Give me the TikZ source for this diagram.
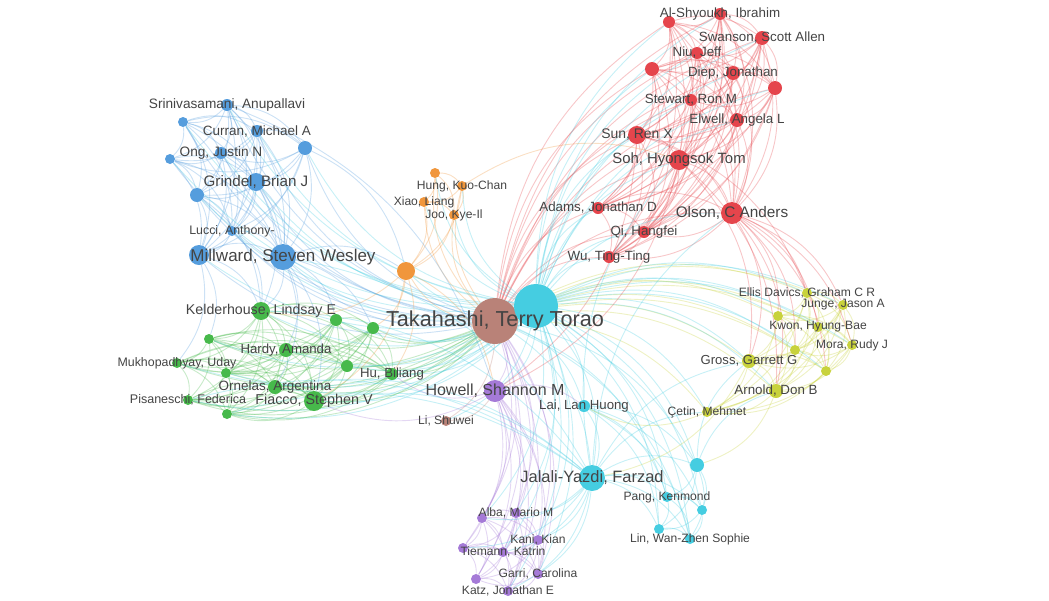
\documentclass[tikz,border=0pt]{standalone}
\usepackage{fontspec}
\setmainfont{Liberation Sans}
\usepackage{tikz}
\definecolor{palette_bleu}{HTML}{559DDD}
\definecolor{palette_vert}{HTML}{47B94B}
\definecolor{palette_rouge}{HTML}{E5454C}
\definecolor{palette_jaune}{HTML}{C8D23C}
\definecolor{palette_violet}{HTML}{A57AD7}
\definecolor{palette_cyan}{HTML}{45CDE1}
\definecolor{palette_orange}{HTML}{F0963C}
\definecolor{palette_brun}{HTML}{B98278}
\definecolor{palette_texte}{HTML}{444444}
\pgfdeclarelayer{edges}
\pgfsetlayers{edges,main}
% every pair of a cluster
\newcommand\authclique[2]{%
  \foreach \p [count=\i] in {#2} {
    \foreach \q [count=\j] in {#2} {
      \ifnum\j>\i\relax \draw[ed=#1] (\p) to (\q); \fi
    }
  }
}
\begin{document}
\begin{tikzpicture}[x=0.025cm, y=-0.025cm,
    au/.style={circle, inner sep=0pt, fill=#1},
    ed/.style={draw=#1, draw opacity=.3, line width=.65pt, bend left=25},
    lab/.style={text=palette_texte, inner sep=0pt, font=\fontsize{#1}{#1}\selectfont}]
    \useasboundingbox (0,0) rectangle (1049,600);

    % authors
    \foreach \n/\x/\y/\r/\c in {
        bsri/227/105/6/palette_bleu, ba/183/122/5/palette_bleu, bcur/257/131/6/palette_bleu,
        bb/305/148/7/palette_bleu, bong/221/153/6/palette_bleu, bc/170/159/5/palette_bleu,
        bgri/256/182/9/palette_bleu, bd/197/195/7/palette_bleu, bluc/232/231/5/palette_bleu,
        be/199/255/10/palette_bleu, bmil/283/257/13/palette_bleu,
        oa/435/173/5/palette_orange, ohun/462/186/5/palette_orange, oxia/424/202/5/palette_orange,
        ojoo/454/215/5/palette_orange, ob/406/271/9/palette_orange,
        tak/495/321/23/palette_brun, bli/446/421/5/palette_brun,
        cy/536/306/22/palette_cyan, clai/584/406/6/palette_cyan, cjal/592/478/13/palette_cyan,
        ca/697/465/7/palette_cyan, cpan/667/497/5/palette_cyan, cb/702/510/5/palette_cyan,
        cc/659/529/5/palette_cyan, clin/690/539/5/palette_cyan,
        phow/495/391/11/palette_violet, pa/482/518/5/palette_violet, palb/516/513/5/palette_violet,
        pkan/538/540/5/palette_violet, pb/463/548/5/palette_violet, ptie/503/552/5/palette_violet,
        pgar/538/574/5/palette_violet, pc/476/579/5/palette_violet, pkat/508/591/5/palette_violet,
        gkel/261/311/9/palette_vert, ga/336/320/6/palette_vert, gb/373/328/6/palette_vert,
        gc/209/339/5/palette_vert, ghar/286/350/7/palette_vert, gmuk/177/363/5/palette_vert,
        gd/226/373/5/palette_vert, ge/347/366/6/palette_vert, ghu/392/374/6/palette_vert,
        gorn/275/387/7/palette_vert, gpis/188/400/5/palette_vert, gfia/314/401/10/palette_vert,
        gf/227/414/5/palette_vert,
        rals/720/14/6/palette_rouge, ra/669/22/6/palette_rouge, rswa/762/38/7/palette_rouge,
        rniu/697/53/6/palette_rouge, rb/652/69/7/palette_rouge, rdie/733/73/7/palette_rouge,
        rc/775/88/7/palette_rouge, rste/691/100/6/palette_rouge, relw/737/120/7/palette_rouge,
        rsun/637/135/9/palette_rouge, rsoh/679/160/10/palette_rouge, rada/598/208/6/palette_rouge,
        rols/732/213/11/palette_rouge, rqi/644/232/6/palette_rouge, rwu/609/257/6/palette_rouge,
        yell/807/293/5/palette_jaune, yjun/843/305/5/palette_jaune, ya/778/316/5/palette_jaune,
        ykwo/818/327/5/palette_jaune, ymor/852/345/5/palette_jaune, yb/795/350/5/palette_jaune,
        ygro/749/361/7/palette_jaune, yc/826/371/5/palette_jaune, yarn/776/391/7/palette_jaune,
        ycet/707/412/5/palette_jaune}
        \node[au=\c, minimum size=\r*0.05cm] (\n) at (\x,\y) {};

    \begin{pgfonlayer}{edges}
    % links inside the clusters
    \authclique{palette_bleu}{bsri,ba,bcur,bb,bong,bc,bgri,bd,bluc,be,bmil}
    \authclique{palette_orange}{oa,ohun,oxia,ojoo,ob}
    \authclique{palette_cyan}{cy,clai,cjal,ca,cpan,cb,cc,clin}
    \authclique{palette_violet}{phow,pa,palb,pkan,pb,ptie,pgar,pc,pkat}
    \authclique{palette_vert}{gkel,ga,gb,gc,ghar,gmuk,gd,ge,ghu,gorn,gpis,gfia,gf}
    \authclique{palette_rouge}{rals,ra,rswa,rniu,rb,rdie,rc,rste,relw,rsun,rsoh,rada,rols,rqi,rwu}
    \authclique{palette_jaune}{yell,yjun,ya,ykwo,ymor,yb,ygro,yc,yarn,ycet}

    % links of the two hubs
    \foreach \p/\c in {bsri/palette_bleu, ba/palette_bleu, bcur/palette_bleu, bb/palette_bleu,
        bong/palette_bleu, bc/palette_bleu, bgri/palette_bleu, bd/palette_bleu, bluc/palette_bleu,
        be/palette_bleu, bmil/palette_bleu, oa/palette_orange, ohun/palette_orange,
        oxia/palette_orange, ojoo/palette_orange, ob/palette_orange, bli/palette_brun,
        clai/palette_cyan, cjal/palette_cyan, ca/palette_cyan, cpan/palette_cyan, clin/palette_cyan,
        phow/palette_violet, pa/palette_violet, palb/palette_violet, pkan/palette_violet,
        pb/palette_violet, ptie/palette_violet, pgar/palette_violet, pc/palette_violet,
        pkat/palette_violet, gkel/palette_vert, ga/palette_vert, gb/palette_vert, gc/palette_vert,
        ghar/palette_vert, gmuk/palette_vert, gd/palette_vert, ge/palette_vert, ghu/palette_vert,
        gorn/palette_vert, gpis/palette_vert, gfia/palette_vert, gf/palette_vert,
        rals/palette_rouge, ra/palette_rouge, rswa/palette_rouge, rniu/palette_rouge,
        rb/palette_rouge, rdie/palette_rouge, rc/palette_rouge, rste/palette_rouge,
        relw/palette_rouge, rsun/palette_rouge, rsoh/palette_rouge, rada/palette_rouge,
        rols/palette_rouge, rqi/palette_rouge, rwu/palette_rouge, yell/palette_jaune,
        yjun/palette_jaune, ya/palette_jaune, ykwo/palette_jaune, ymor/palette_jaune,
        yb/palette_jaune, ygro/palette_jaune, yc/palette_jaune, yarn/palette_jaune,
        ycet/palette_jaune}
        \draw[ed=\c] (tak) to (\p);
    \foreach \p in {bsri,ba,bcur,bb,bong,bc,bgri,bd,bluc,be,bmil,oa,ohun,oxia,ojoo,ob,bli,
        phow,pa,palb,pkan,ptie,pgar,pkat,gkel,ga,gb,gc,ghar,gmuk,gd,ge,ghu,gorn,gpis,gfia,gf,
        rals,ra,rswa,rniu,rb,rdie,rc,rste,relw,rsun,rsoh,rada,rols,rqi,rwu,
        yell,yjun,ya,ykwo,ymor,yb,ygro,yc,yarn,ycet}
        \draw[ed=palette_cyan] (cy) to (\p);
    \draw[ed=palette_brun, line width=1.5pt] (tak) to (cy);

    % links between the clusters
    \foreach \a/\b/\c in {bmil/gkel/palette_bleu, bmil/ghar/palette_bleu, bmil/gfia/palette_bleu,
        bmil/gorn/palette_bleu, be/gkel/palette_bleu, be/gc/palette_bleu, be/gmuk/palette_bleu,
        bgri/gkel/palette_bleu, bd/gkel/palette_bleu, bluc/gkel/palette_bleu, bmil/ga/palette_bleu,
        bmil/gb/palette_bleu, bb/ob/palette_bleu, bmil/ob/palette_bleu, bsri/phow/palette_bleu,
        ob/gkel/palette_orange, ob/gb/palette_orange, ob/ghu/palette_orange, ob/gfia/palette_orange,
        ob/phow/palette_orange, ohun/rsoh/palette_orange,
        rols/yell/palette_rouge, rols/yjun/palette_rouge, rols/ya/palette_rouge,
        rols/ykwo/palette_rouge, rols/ymor/palette_rouge, rols/yb/palette_rouge,
        rols/ygro/palette_rouge, rols/yc/palette_rouge, rols/yarn/palette_rouge,
        rsoh/ygro/palette_rouge, rsoh/yarn/palette_rouge, rsun/yell/palette_rouge,
        rsoh/phow/palette_rouge, rsun/phow/palette_rouge,
        cjal/rols/palette_cyan, cjal/rsoh/palette_cyan, ca/ygro/palette_cyan,
        ca/yarn/palette_cyan, cjal/ycet/palette_cyan, cjal/ygro/palette_cyan,
        gfia/cjal/palette_cyan, gorn/cjal/palette_cyan, gkel/cjal/palette_cyan,
        gpis/cjal/palette_cyan, gf/cjal/palette_cyan, bmil/cjal/palette_cyan,
        cjal/pa/palette_cyan, cjal/palb/palette_cyan, cjal/pkan/palette_cyan,
        cjal/pb/palette_cyan, cjal/ptie/palette_cyan, cjal/pgar/palette_cyan,
        cjal/pkat/palette_cyan, phow/gfia/palette_violet, phow/ghu/palette_violet,
        phow/clai/palette_violet, phow/bli/palette_brun, ycet/clai/palette_jaune,
        ygro/cjal/palette_jaune, yarn/ca/palette_jaune}
        \draw[ed=\c] (\a) to (\b);
    \end{pgfonlayer}

    % names
    \foreach \n/\s/\t in {
        bsri/9.7/{Srinivasamani, Anupallavi}, bcur/9.6/{Curran, Michael A},
        bong/9.7/{Ong, Justin N}, bgri/10.8/{Grindel, Brian J}, bluc/8.8/{Lucci, Anthony-},
        bmil/12.1/{Millward, Steven Wesley},
        ohun/8.6/{Hung, Kuo-Chan}, oxia/8.6/{Xiao, Liang}, ojoo/8.6/{Joo, Kye-Il},
        tak/15.4/{Takahashi, Terry Torao}, bli/8.6/{Li, Shuwei},
        clai/9.4/{Lai, Lan Huong}, cjal/11.7/{Jalali-Yazdi, Farzad},
        cpan/8.6/{Pang, Kenmond}, clin/8.6/{Lin, Wan-Zhen Sophie},
        phow/11.4/{Howell, Shannon M}, palb/8.6/{Alba, Mario M}, pkan/8.6/{Kani, Kian},
        ptie/8.6/{Tiemann, Katrin}, pgar/8.6/{Garri, Carolina}, pkat/8.6/{Katz, Jonathan E},
        gkel/10.1/{Kelderhouse, Lindsay E}, ghar/9.4/{Hardy, Amanda},
        gmuk/8.8/{Mukhopadhyay, Uday}, gorn/9.6/{Ornelas, Argentina}, ghu/9.4/{Hu, Biliang},
        gpis/8.9/{Pisaneschi, Federica}, gfia/10.2/{Fiacco, Stephen V},
        rals/9.5/{Al-Shyoukh, Ibrahim}, rswa/9.5/{Swanson, Scott Allen}, rniu/9.5/{Niu, Jeff},
        rdie/9.5/{Diep, Jonathan}, rste/9.5/{Stewart, Ron M}, relw/9.5/{Elwell, Angela L},
        rsun/9.9/{Sun, Ren X}, rsoh/10.6/{Soh, Hyongsok Tom}, rada/9.5/{Adams, Jonathan D},
        rols/10.9/{Olson, C Anders}, rqi/9.5/{Qi, Hangfei}, rwu/9.5/{Wu, Ting-Ting},
        yell/8.6/{Ellis Davics, Graham C R}, yjun/8.6/{Junge, Jason A},
        ykwo/8.6/{Kwon, Hyung-Bae}, ymor/8.6/{Mora, Rudy J}, ygro/9.3/{Gross, Garrett G},
        yarn/9.5/{Arnold, Don B}, ycet/8.6/{Çetin, Mehmet}}
        \node[lab=\s] at (\n) {\t};
\end{tikzpicture}
\end{document}
